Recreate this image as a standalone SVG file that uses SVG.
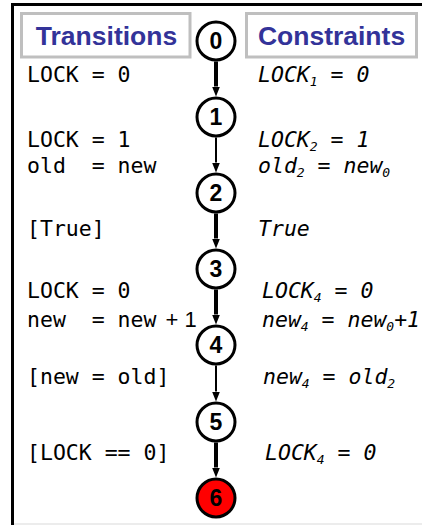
<svg xmlns="http://www.w3.org/2000/svg" width="422" height="525" viewBox="0 0 422 525">
<style>
.hdrbox{fill:#fff;stroke:#bfbfbf;stroke-width:3}
.hdr{font-family:"Liberation Sans",Arial,sans-serif;font-weight:bold;font-size:26.5px;fill:#333399;text-anchor:middle}
.node circle{fill:#fff;stroke:#000;stroke-width:3}
.node text{font-family:"Liberation Sans",Arial,sans-serif;font-weight:bold;font-size:23px;fill:#000;text-anchor:middle}
.tr{font-family:"DejaVu Sans Mono",monospace;font-size:21.5px;fill:#000;white-space:pre}
.cs{font-family:"DejaVu Sans Mono",monospace;font-style:italic;font-size:21.5px;fill:#000;white-space:pre}
.sub{font-size:13px}
.thick{stroke:#000;stroke-width:4;fill:none}
.thin{stroke:#000;stroke-width:2;fill:none}
</style>
<defs>
<marker id="ah" markerUnits="userSpaceOnUse" markerWidth="10" markerHeight="8" viewBox="0 -4 10 8" refX="0" refY="0" orient="auto">
<path d="M0,-4 L10,0 L0,4 z" fill="#000"/>
</marker>
</defs>
<rect width="422" height="525" fill="#fff"/>
<g id="frame">
<line x1="11" y1="4.5" x2="422" y2="4.5" stroke="#000" stroke-width="3"/>
<line x1="12.5" y1="3" x2="12.5" y2="525" stroke="#000" stroke-width="3"/>
<line x1="14" y1="524" x2="422" y2="524" stroke="#d9d9d9" stroke-width="1"/>
</g>
<g id="header-transitions">
<rect class="hdrbox" x="21.5" y="13.5" width="168.5" height="43.5"/>
<text class="hdr" x="106.5" y="45">Transitions</text>
</g>
<g id="header-constraints">
<rect class="hdrbox" x="246.5" y="13.5" width="170" height="43.5"/>
<text class="hdr" x="331.5" y="45">Constraints</text>
</g>
<g id="connectors">
<line class="thick" x1="216" y1="61.5" x2="216" y2="86.5" marker-end="url(#ah)"/>
<line class="thin" x1="216" y1="137.5" x2="216" y2="162.5" marker-end="url(#ah)"/>
<line class="thick" x1="216" y1="213.5" x2="216" y2="238.5" marker-end="url(#ah)"/>
<line class="thick" x1="216" y1="289.5" x2="216" y2="314.5" marker-end="url(#ah)"/>
<line class="thin" x1="216" y1="365.5" x2="216" y2="391.5" marker-end="url(#ah)"/>
<line class="thick" x1="216" y1="442.5" x2="216" y2="467.5" marker-end="url(#ah)"/>
</g>
<g id="n0" class="node"><circle cx="216" cy="41" r="19"/><text x="216" y="49">0</text></g>
<g id="n1" class="node"><circle cx="216" cy="117" r="19"/><text x="216" y="125">1</text></g>
<g id="n2" class="node"><circle cx="216" cy="193" r="19"/><text x="216" y="201">2</text></g>
<g id="n3" class="node"><circle cx="216" cy="269" r="19"/><text x="216" y="277">3</text></g>
<g id="n4" class="node"><circle cx="216" cy="345" r="19"/><text x="216" y="353">4</text></g>
<g id="n5" class="node"><circle cx="216" cy="422" r="19"/><text x="216" y="430">5</text></g>
<g id="n6" class="node"><circle cx="216" cy="498" r="19" style="fill:#ff0000"/><text x="216" y="506">6</text></g>
<g id="transitions">
<text class="tr" x="27" y="82" xml:space="preserve">LOCK = 0</text>
<text class="tr" x="27" y="147" xml:space="preserve">LOCK = 1</text>
<text class="tr" x="27" y="173" xml:space="preserve">old  = new</text>
<text class="tr" x="27" y="236" xml:space="preserve">[True]</text>
<text class="tr" x="27" y="298" xml:space="preserve">LOCK = 0</text>
<text class="tr" x="27" y="327" xml:space="preserve">new  = new<tspan dx="3" style="font-family:'Liberation Sans',Arial,sans-serif;font-size:22px"> + 1</tspan></text>
<text class="tr" x="27" y="384" xml:space="preserve">[new = old]</text>
<text class="tr" x="27" y="460" xml:space="preserve">[LOCK == 0]</text>
</g>
<g id="constraints">
<text class="cs" x="258" y="82" xml:space="preserve">LOCK<tspan class="sub" dy="4">1</tspan><tspan dy="-4"> = 0</tspan></text>
<text class="cs" x="258" y="147" xml:space="preserve">LOCK<tspan class="sub" dy="4">2</tspan><tspan dy="-4"> = 1</tspan></text>
<text class="cs" x="258" y="173" xml:space="preserve">old<tspan class="sub" dy="4">2</tspan><tspan dy="-4"> = new</tspan><tspan class="sub" dy="4">0</tspan></text>
<text class="cs" x="258" y="236" xml:space="preserve">True</text>
<text class="cs" x="262" y="298" xml:space="preserve">LOCK<tspan class="sub" dy="4">4</tspan><tspan dy="-4"> = 0</tspan></text>
<text class="cs" x="262" y="327" xml:space="preserve">new<tspan class="sub" dy="4">4</tspan><tspan dy="-4"> = new</tspan><tspan class="sub" dy="4">0</tspan><tspan dy="-4">+1</tspan></text>
<text class="cs" x="263" y="384" xml:space="preserve">new<tspan class="sub" dy="4">4</tspan><tspan dy="-4"> = old</tspan><tspan class="sub" dy="4">2</tspan></text>
<text class="cs" x="265" y="460" xml:space="preserve">LOCK<tspan class="sub" dy="4">4</tspan><tspan dy="-4"> = 0</tspan></text>
</g>
</svg>
